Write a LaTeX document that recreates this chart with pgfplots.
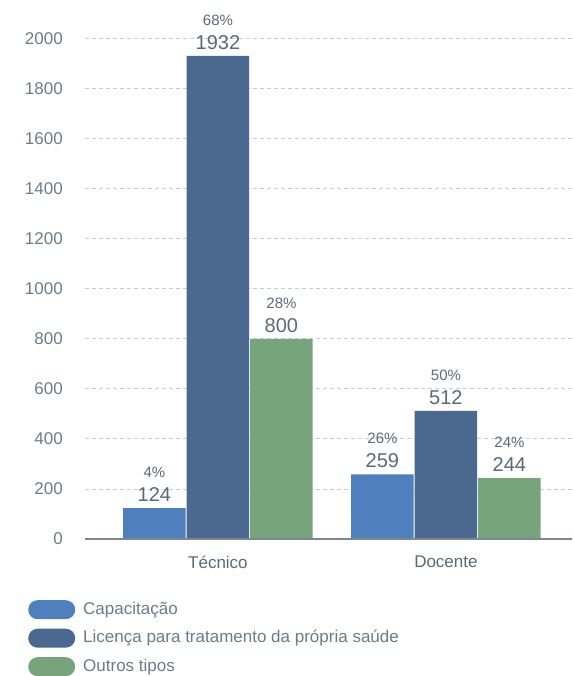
\documentclass[border=0pt]{standalone}
\usepackage{pgfplots}
\pgfplotsset{compat=1.18}
\usepackage{pgfplotstable}
\usepackage{fontspec}
\setmainfont{Liberation Sans}

\definecolor{cCap}{HTML}{4F80BD}
\definecolor{cLic}{HTML}{4A6890}
\definecolor{cOut}{HTML}{77A47B}
\definecolor{txt}{HTML}{6B7B8A}
\definecolor{txtdark}{HTML}{5A6977}
\definecolor{gridc}{HTML}{C5CDD6}

% x: 0 = Tecnico, 1 = Docente
\pgfplotstableread{
x y pct
0 124 4
1 259 26
}\capac
\pgfplotstableread{
x y pct
0 1932 68
1 512 50
}\licenca
\pgfplotstableread{
x y pct
0 800 28
1 244 24
}\outros

\begin{document}
\begin{tikzpicture}
\path[use as bounding box] (-85pt,-137pt) rectangle (487pt,539pt);
\begin{axis}[
    at={(0,0)}, anchor=south west,
    scale only axis,
    width=487pt, height=500pt,
    ybar,
    bar width=62.5pt,
    ymin=0, ymax=2000,
    xmin=-0.583, xmax=1.553,
    ytick={0,200,...,2000},
    xtick={0,1},
    xticklabels={Técnico, Docente},
    /pgf/number format/assume math mode=true,
    /pgf/number format/1000 sep={},
    ymajorgrids=true,
    grid style={gridc, line width=1pt, dash pattern=on 4pt off 3pt},
    major tick length=0pt,
    axis x line=bottom,
    axis y line=left,
    y axis line style={draw=none},
    x axis line style={draw=none},
    yticklabel style={font=\fontsize{17}{20}\selectfont, text=txt, inner sep=0pt, anchor=east, xshift=-22pt},
    xticklabel style={font=\fontsize{17}{20}\selectfont, text=txtdark, inner sep=0pt, anchor=north, yshift=-17pt},
    clip=false,
    nodes near coords={\fontsize{15}{15}\selectfont\pgfmathprintnumber[fixed, precision=0]{\pct}\%\\\fontsize{20}{24}\selectfont\pgfmathprintnumber{\pgfplotspointmeta}},
    every node near coord/.append style={align=center, inner sep=0pt, yshift=6pt, text=txtdark, font=\fontsize{20}{24}\selectfont},
    visualization depends on={\thisrow{pct} \as \pct},
    legend image code/.code={\fill[#1, draw=none, rounded corners=9.5pt] (0pt,-9.5pt) rectangle (47pt,9.5pt);},
    legend cell align=left,
    legend style={at={(rel axis cs:-0.117,-0.122)}, anchor=north west, draw=none, fill=none,
        font=\fontsize{17}{20}\selectfont, text=txt, row sep=9.5pt, inner sep=0pt,
        /tikz/every odd column/.append style={column sep=8pt},
        nodes={inner sep=0pt, text height=12.5pt, text depth=3.5pt}},
]
\addplot[fill=cCap, draw=none, bar shift=-63.5pt] table[x=x, y=y, meta=y] {\capac};
\addlegendentry{Capacitação}
\addplot[fill=cLic, draw=none, bar shift=0pt] table[x=x, y=y, meta=y] {\licenca};
\addlegendentry{Licença para tratamento da própria saúde}
\addplot[fill=cOut, draw=none, bar shift=63.5pt] table[x=x, y=y, meta=y] {\outros};
\addlegendentry{Outros tipos}
\draw[color=txt!90, line width=1.3pt] (rel axis cs:0,0) -- (rel axis cs:1,0);
\end{axis}
\end{tikzpicture}
\end{document}
